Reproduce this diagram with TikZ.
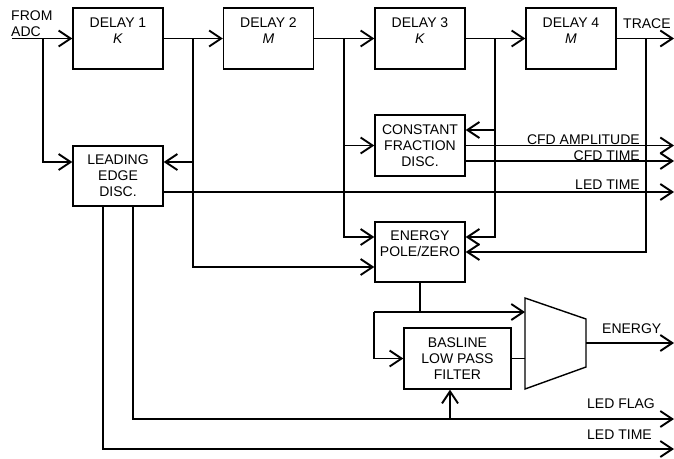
\documentclass[tikz,border=0pt]{standalone}
\usepackage{fontspec}
\setmainfont{Liberation Sans}
\usetikzlibrary{arrows.meta}
\begin{document}
\begin{tikzpicture}[x=1pt,y=-1pt,
  box/.style={draw,line width=1.4pt,align=center,inner sep=0pt,font=\fontsize{14}{16}\selectfont},
  ln/.style={line width=1.9pt},
  arr/.style={ln,-{Straight Barb[length=12pt,width=16pt]}},
  lbl/.style={inner sep=0pt,font=\fontsize{14}{16}\selectfont}]
\useasboundingbox (0,0) rectangle (674,458);
% boxes
\node[box,minimum width=90pt,minimum height=61pt] (d1) at (118,38.5) {DELAY 1\\\textit{K}\\\mbox{}};
\node[box,minimum width=90pt,minimum height=61pt] (d2) at (268.5,38.5) {DELAY 2\\\textit{M}\\\mbox{}};
\node[box,minimum width=90pt,minimum height=61pt] (d3) at (420,38.5) {DELAY 3\\\textit{K}\\\mbox{}};
\node[box,minimum width=90pt,minimum height=61pt] (d4) at (571,38.5) {DELAY 4\\\textit{M}\\\mbox{}};
\node[box,minimum width=90pt,minimum height=60pt] (led) at (118,176) {LEADING\\EDGE\\DISC.};
\node[box,minimum width=90pt,minimum height=61pt] (cfd) at (420,145.5) {CONSTANT\\FRACTION\\DISC.};
\node[box,minimum width=90pt,minimum height=60pt] (energy) at (420,252) {ENERGY\\POLE/ZERO\\\mbox{}};
\node[box,minimum width=107pt,minimum height=61pt] (bl) at (457.5,358.5) {BASLINE\\LOW PASS\\FILTER};
% multiplexer
\coordinate (m1) at (525,298);
\coordinate (m2) at (586,319);
\coordinate (m3) at (586,367);
\coordinate (m4) at (525,389);
\draw[line width=1.4pt] (m1) -- (m2) -- (m3) -- (m4) -- cycle;
% coordinates
\coordinate (adc) at (12,38.5);
\coordinate (t1) at (43,38.5);
\coordinate (t2) at (193,38.5);
\coordinate (t3) at (344,38.5);
\coordinate (t4) at (495,38.5);
\coordinate (t5) at (646,38.5);
\coordinate (traceend) at (674,38.5);
\coordinate (ledinL) at ([yshift=14pt]led.west);
\coordinate (ledinR) at ([yshift=14pt]led.east);
\coordinate (ledout) at ([yshift=-16pt]led.east);
\coordinate (ledb1) at ([xshift=-15pt]led.south);
\coordinate (ledb2) at ([xshift=15pt]led.south);
\coordinate (cfdinR) at ([yshift=15.5pt]cfd.east);
\coordinate (cfdout2) at ([yshift=-15.5pt]cfd.east);
\coordinate (enL1) at ([yshift=15pt]energy.west);
\coordinate (enL2) at ([yshift=-15pt]energy.west);
\coordinate (enR1) at ([yshift=15pt]energy.east);
\coordinate (blup) at ([xshift=-7.5pt]bl.south);
\coordinate (ejl) at (374,312);
\coordinate (muxin) at (525,312);
\coordinate (muxout) at (586,343);
\coordinate (flagend) at (674,419);
\coordinate (timeend) at (674,449);
% main chain
\draw[arr] (adc) -- (d1.west);
\draw[arr] (d1) -- (d2);
\draw[arr] (d2) -- (d3);
\draw[arr] (d3) -- (d4);
\draw[arr] (d4.east) -- (traceend);
% taps
\draw[arr] (t1) |- (ledinL);
\draw[arr] (t2) |- (enL2);
\draw[arr] (ledinR -| t2) -- (ledinR);
\draw[arr] (t3) |- (enL1);
\draw[arr] (cfd.west -| t3) -- (cfd.west);
\draw[arr] (t4) |- (enR1);
\draw[arr] (cfdinR -| t4) -- (cfdinR);
\draw[arr] (t5) |- (energy.east);
% outputs
\draw[arr] (cfd.east) -- (cfd.east -| traceend);
\draw[arr] (cfdout2) -- (cfdout2 -| traceend);
\draw[arr] (ledout) -- (ledout -| traceend);
% energy path
\draw[ln] (energy.south) -- (energy.south |- ejl);
\draw[arr] (ejl) -- (muxin);
\draw[arr] (ejl) |- (bl.west);
\draw[ln] (bl.east) -- (bl.east -| m1);
\draw[arr] (muxout) -- (muxout -| traceend);
% LED flag and time
\draw[arr] (ledb2) |- (flagend);
\draw[arr] (blup |- flagend) -- (blup);
\draw[arr] (ledb1) |- (timeend);
% labels
\node[lbl,anchor=base west] (froml) at (11,20) {FROM};
\node[lbl,anchor=base west] (adcl) at (11,36) {ADC};
\node[lbl,anchor=base west] (tracel) at (623,28) {TRACE};
\node[lbl,anchor=base east] (cfdal) at (640,144) {CFD AMPLITUDE};
\node[lbl,anchor=base east] (cfdtl) at (640,160) {CFD TIME};
\node[lbl,anchor=base east] (ledtl) at (640,189) {LED TIME};
\node[lbl,anchor=base west] (enl) at (602,333) {ENERGY};
\node[lbl,anchor=base west] (ledfl) at (587,408) {LED FLAG};
\node[lbl,anchor=base west] (ledt2) at (587,439) {LED TIME};
\end{tikzpicture}
\end{document}
